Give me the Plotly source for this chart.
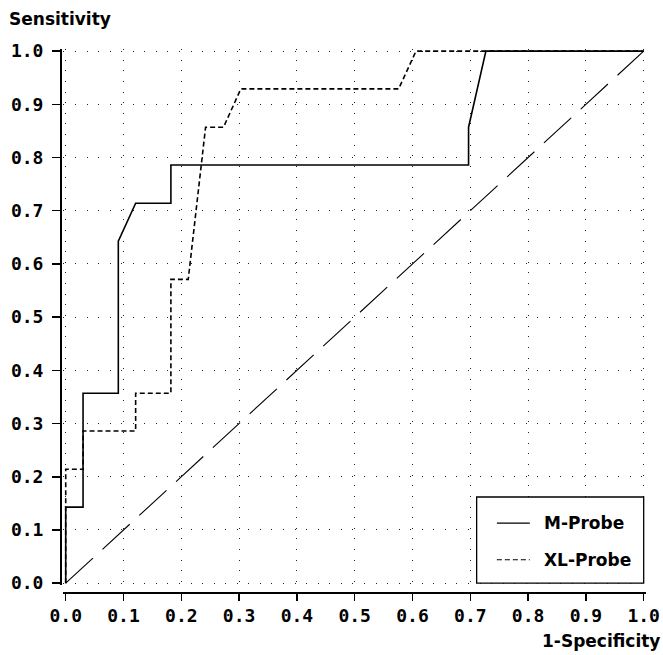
import plotly.graph_objects as go

# ---- data ----
m_probe_fpr = [0.0, 0.0, 0.030, 0.030, 0.091, 0.091, 0.121, 0.182, 0.182, 0.697, 0.697, 0.727, 1.0]
m_probe_tpr = [0.0, 0.143, 0.143, 0.357, 0.357, 0.643, 0.714, 0.714, 0.786, 0.786, 0.857, 1.0, 1.0]

xl_probe_fpr = [0.0, 0.0, 0.030, 0.030, 0.121, 0.121, 0.182, 0.182, 0.212, 0.242, 0.273, 0.303, 0.576, 0.606, 1.0]
xl_probe_tpr = [0.0, 0.214, 0.214, 0.286, 0.286, 0.357, 0.357, 0.571, 0.571, 0.857, 0.857, 0.929, 0.929, 1.0, 1.0]

chance_x = [0.0, 1.0]
chance_y = [0.0, 1.0]

tick_vals = [0.0, 0.1, 0.2, 0.3, 0.4, 0.5, 0.6, 0.7, 0.8, 0.9, 1.0]
tick_text = ["0.0", "0.1", "0.2", "0.3", "0.4", "0.5", "0.6", "0.7", "0.8", "0.9", "1.0"]

series_names = ["M-Probe", "XL-Probe"]
x_title = "1-Specificity"
y_title = "Sensitivity"

# ---- figure ----
fig = go.Figure()
fig.add_trace(go.Scatter(x=chance_x, y=chance_y, mode="lines", showlegend=False,
                         line=dict(color="black", width=1.1, dash="37px,13px"), hoverinfo="skip"))
fig.add_trace(go.Scatter(x=xl_probe_fpr, y=xl_probe_tpr, mode="lines", name=series_names[1],
                         showlegend=False, line=dict(color="black", width=1.6, dash="5px,3px")))
fig.add_trace(go.Scatter(x=m_probe_fpr, y=m_probe_tpr, mode="lines", name=series_names[0],
                         showlegend=False, line=dict(color="black", width=1.6)))

W, H = 663, 655
ml, mr, mt, mb = 60, 17, 49, 63
PW = W - ml - mr   # 586
PH = H - mt - mb   # 543

tickfont = dict(family="DejaVu Sans Mono", size=18, color="black", weight="bold")
labfont = dict(family="DejaVu Sans", size=17, color="black", weight="bold")

fig.update_layout(
    width=W, height=H,
    margin=dict(l=ml, r=mr, t=mt, b=mb, pad=0, autoexpand=False),
    paper_bgcolor="white", plot_bgcolor="white",
    showlegend=False,
    xaxis=dict(range=[-0.004, 1.004], domain=[0.0058, 1.0], anchor="free", position=0,
               tickvals=tick_vals, ticktext=tick_text, tickfont=tickfont,
               showline=True, linecolor="black", linewidth=1.5,
               ticks="outside", ticklen=7, tickwidth=1.5, tickcolor="black",
               showgrid=True, gridcolor="#222222", gridwidth=1, griddash="1px,9.64px",
               zeroline=False, fixedrange=True, automargin=False),
    yaxis=dict(range=[-0.004, 1.004], domain=[0.01234, 1.0], anchor="free", position=0,
               tickvals=tick_vals, ticktext=tick_text, tickfont=tickfont,
               showline=True, linecolor="black", linewidth=1.5,
               ticks="outside", ticklen=8, tickwidth=1.5, tickcolor="black",
               ticklabelstandoff=5,
               showgrid=True, gridcolor="#222222", gridwidth=1, griddash="1px,10.56px",
               zeroline=False, fixedrange=True, automargin=False),
)

# axis titles (positions given in window pixels, converted to paper fractions)
def px_x(p):
    return (p - ml) / PW

def px_y(p):
    return (H - mb - p) / PH

fig.add_annotation(text=y_title, xref="paper", yref="paper", x=px_x(7), y=px_y(19),
                   xanchor="left", yanchor="middle", showarrow=False, font=labfont)
fig.add_annotation(text=x_title, xref="paper", yref="paper", x=px_x(662), y=px_y(641),
                   xanchor="right", yanchor="middle", showarrow=False, font=labfont)

# legend box (drawn in data space, bottom-right corner of the plot)
fig.add_shape(type="rect", xref="x", yref="y", x0=0.711, x1=1.0, y0=0.0, y1=0.162,
              line=dict(color="black", width=1.3), fillcolor="white", layer="above")
fig.add_shape(type="line", xref="x", yref="y", x0=0.746, x1=0.803, y0=0.113, y1=0.113,
              line=dict(color="black", width=1.2), layer="above")
fig.add_shape(type="line", xref="x", yref="y", x0=0.746, x1=0.803, y0=0.044, y1=0.044,
              line=dict(color="black", width=1.2, dash="5px,3px"), layer="above")
fig.add_annotation(text=series_names[0], xref="x", yref="y", x=0.8235, y=0.113,
                   xanchor="left", yanchor="middle", showarrow=False, font=labfont)
fig.add_annotation(text=series_names[1], xref="x", yref="y", x=0.8235, y=0.044,
                   xanchor="left", yanchor="middle", showarrow=False, font=labfont)

# remove the browser's default 8px body margin so the 663x655 figure fills the window exactly
fig.write_html("out.html",
               config={"displayModeBar": False, "displaylogo": False, "staticPlot": True},
               post_script="document.body.style.margin='0px'; document.body.style.overflow='hidden';")
